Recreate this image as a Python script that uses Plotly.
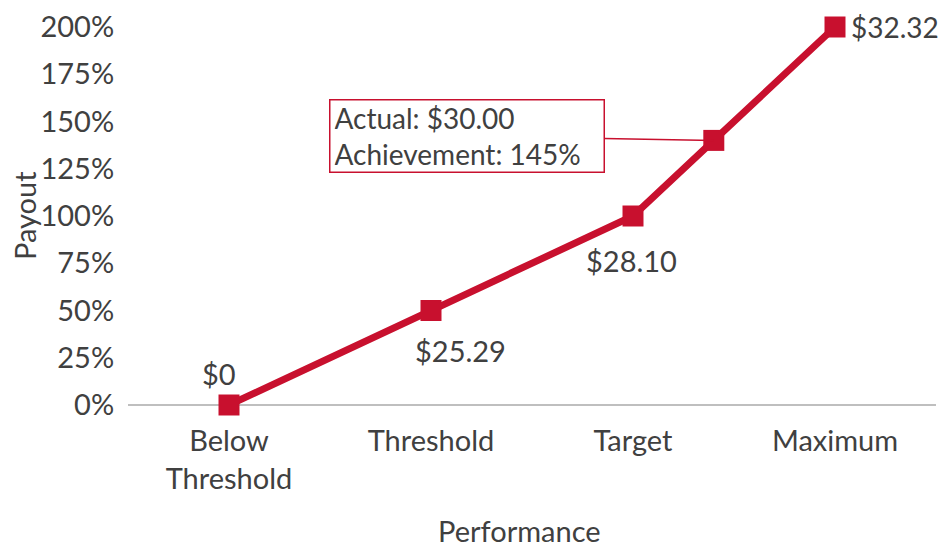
import plotly.graph_objects as go

categories = ["Below<br>Threshold", "Threshold", "Target", "Maximum"]
cat_pos = [0, 1, 2, 3]
x_vals = [0, 1, 2, 2.4, 3]
payout = [0, 50, 100, 140, 200]
price_labels = ["$0", "$25.29", "$28.10", "", "$32.32"]
y_ticks = [0, 25, 50, 75, 100, 125, 150, 175, 200]
y_tick_text = [f"{v}%" for v in y_ticks]
callout_text = "Actual: $30.00<br>Achievement: 145%"
x_title = "Performance"
y_title = "Payout"

RED = "#C8102E"
TXT = "#404040"
FONT = "Lato"
FS = 29

fig = go.Figure()
fig.add_trace(go.Scatter(
    x=x_vals, y=payout, mode="lines+markers",
    line=dict(color=RED, width=7),
    marker=dict(symbol="square", size=21, color=RED),
    cliponaxis=False, hoverinfo="skip", showlegend=False,
))

label_shift = {"$0": (-10, 32), "$25.29": (29, -40), "$28.10": (-2, -44), "$32.32": (60, 0)}
label_size = {"$0": FS, "$25.29": FS, "$28.10": FS, "$32.32": 28}
annotations = []
for xv, yv, lab in zip(x_vals, payout, price_labels):
    if not lab:
        continue
    dx, dy = label_shift[lab]
    annotations.append(dict(x=xv, y=yv, text=lab, showarrow=False, xshift=dx, yshift=dy,
                            font=dict(family=FONT, size=label_size[lab], color=TXT)))

annotations.append(dict(
    x=x_vals[3], y=payout[3], text=callout_text, align="left", showarrow=True,
    arrowhead=0, arrowwidth=1.5, arrowcolor=RED, ax=-247, ay=-4,
    bordercolor=RED, borderwidth=1.5, borderpad=4, bgcolor="white",
    width=265, height=63,
    font=dict(family=FONT, size=28, color=TXT),
))

# axis titles
annotations.append(dict(xref="paper", yref="paper", x=0, y=0.5, xshift=-104,
                        xanchor="center", yanchor="middle", textangle=-90,
                        text=y_title, showarrow=False,
                        font=dict(family=FONT, size=FS, color=TXT)))
annotations.append(dict(xref="paper", yref="paper", x=0.484, y=0, yshift=-125,
                        xanchor="center", yanchor="middle",
                        text=x_title, showarrow=False,
                        font=dict(family=FONT, size=FS, color=TXT)))

# page body has an 8px margin, so the figure is sized to fit the window
fig.update_layout(
    width=930, height=541,
    margin=dict(l=120, r=2, t=19, b=144),
    plot_bgcolor="white", paper_bgcolor="white",
    font=dict(family=FONT, size=FS, color=TXT),
    annotations=annotations,
    xaxis=dict(
        range=[-0.5, 3.5], tickvals=cat_pos, ticktext=categories,
        showgrid=False, zeroline=False, showline=False, automargin=False,
        ticks="outside", ticklen=10, tickcolor="rgba(0,0,0,0)",
        tickfont=dict(size=FS, color=TXT),
    ),
    yaxis=dict(
        range=[0, 200], tickvals=y_ticks, ticktext=y_tick_text,
        showgrid=False, zeroline=True, zerolinecolor="#BFBFBF", zerolinewidth=2,
        showline=False, automargin=False,
        ticks="outside", ticklen=7, tickcolor="rgba(0,0,0,0)",
        tickfont=dict(size=FS, color=TXT),
    ),
)

fig.write_html("out.html")
